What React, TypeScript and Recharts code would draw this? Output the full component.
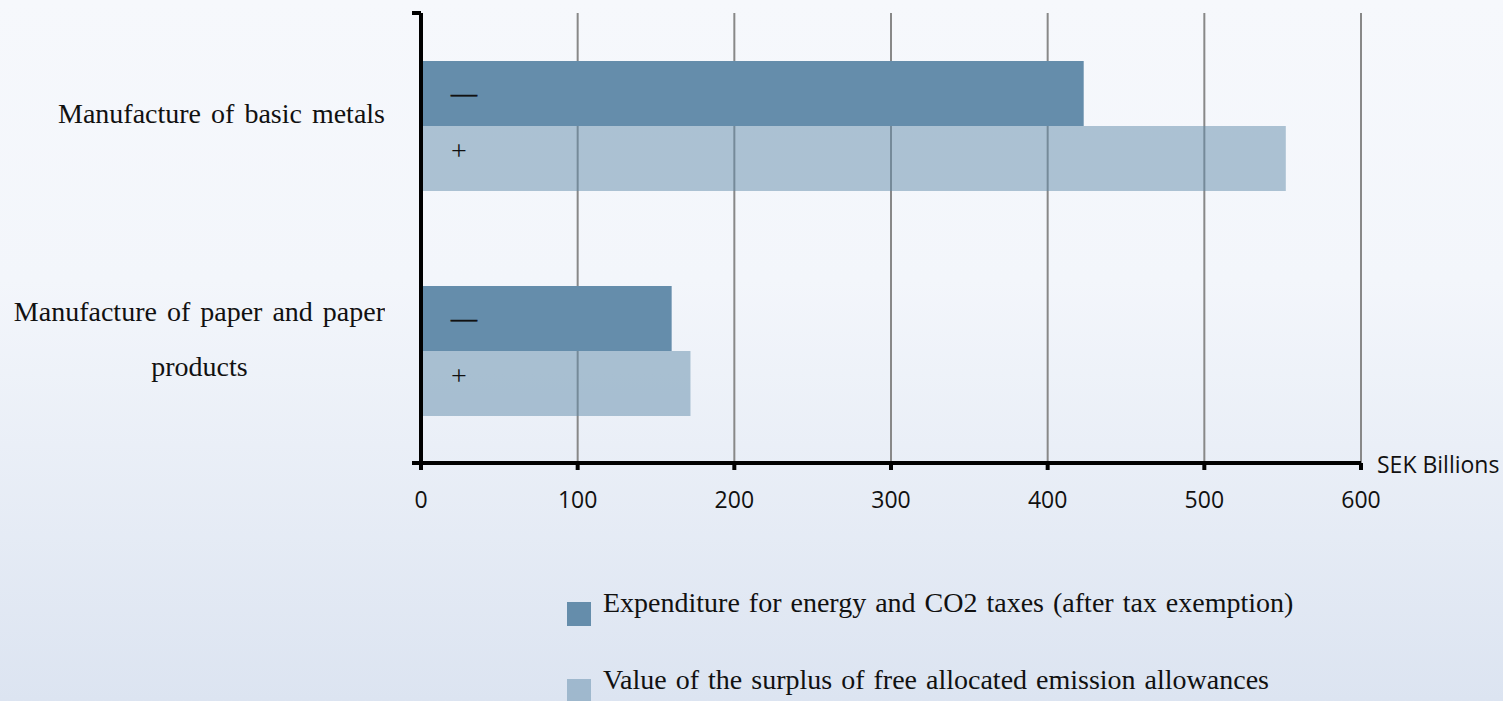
import React from "react";
import {
  BarChart,
  Bar,
  XAxis,
  YAxis,
  CartesianGrid,
  Legend,
  LabelList,
} from "recharts";

const categories = [
  "Manufacture of basic metals",
  "Manufacture of paper and paper products",
];
const expenditure = [423, 160];
const surplus = [552, 172];
const xTicks = [0, 100, 200, 300, 400, 500, 600];
const frameTicks = [0, 1, 2];
const seriesNames = [
  "Expenditure for energy and CO2 taxes (after tax exemption)",
  "Value of the surplus of free allocated emission allowances",
];
const seriesMarks = ["—", "+"];
const axisUnit = "SEK Billions";

const data = categories.map((c, i) => ({
  category: c,
  exp: expenditure[i],
  surplus: surplus[i],
}));

const BAR_COLOR = "#658DAB";
const LIGHT_OPACITY = 0.51;
const SERIF = "'Liberation Serif', 'DejaVu Serif', serif";
const SANS = "'Open Sans', 'Noto Sans', sans-serif";

function wrapWords(text: string, maxChars: number): string[] {
  const words = text.split(" ");
  const lines: string[] = [];
  let cur = "";
  for (const w of words) {
    const next = cur ? cur + " " + w : w;
    if (next.length > maxChars && cur) {
      lines.push(cur);
      cur = w;
    } else {
      cur = next;
    }
  }
  if (cur) lines.push(cur);
  return lines;
}

const CategoryTick = (props: any) => {
  const { y, payload } = props;
  const lines = wrapWords(String(payload.value), 30);
  const lh = 55;
  const h = lines.length * lh;
  return (
    <foreignObject x={0} y={y - h / 2 - 12} width={385} height={h}>
      <div
        style={{
          display: "flex",
          justifyContent: "flex-end",
          height: "100%",
        }}
      >
        <div
          style={{
            textAlign: "center",
            fontFamily: SERIF,
            fontSize: 28,
            lineHeight: lh + "px",
            wordSpacing: 3,
            color: "#111",
            whiteSpace: "nowrap",
          }}
        >
          {lines.map((l, i) => (
            <div key={i}>{l}</div>
          ))}
        </div>
      </div>
    </foreignObject>
  );
};

const XTick = (props: any) => {
  const { x, y, payload } = props;
  return (
    <text
      x={x}
      y={y + 27}
      textAnchor="middle"
      dominantBaseline="central"
      fontFamily={SANS}
      fontSize={23}
      fill="#111"
    >
      {payload.value}
    </text>
  );
};

const EmptyTick = () => <g />;

const UnitLabel = (props: any) => {
  const vb = props.viewBox || {};
  return (
    <text
      x={vb.x + vb.width + 16}
      y={vb.y + 1}
      textAnchor="start"
      dominantBaseline="central"
      fontFamily={SANS}
      fontSize={23}
      fill="#111"
    >
      {axisUnit}
    </text>
  );
};

const makeMark = (mark: string, size: number, dyOff: number, sw: number) => (p: any) => (
  <text
    x={Number(p.x) + 30}
    y={Number(p.y) + Number(p.height) / 2 + dyOff}
    textAnchor="start"
    dominantBaseline="central"
    fontFamily={SERIF}
    fontSize={size}
    fill="#111"
    stroke="#111"
    strokeWidth={sw}
  >
    {mark}
  </text>
);

const LegendContent = () => {
  const rows = [
    { name: seriesNames[0], opacity: 1 },
    { name: seriesNames[1], opacity: LIGHT_OPACITY },
  ];
  return (
    <div style={{ position: "relative", width: 900, height: 130 }}>
      {rows.map((r, i) => (
        <React.Fragment key={i}>
          <div
            style={{
              position: "absolute",
              left: 0,
              top: 22 + i * 77,
              width: 24,
              height: 24,
              background: BAR_COLOR,
              opacity: r.opacity,
            }}
          />
          <div
            style={{
              position: "absolute",
              left: 36,
              top: 7 + i * 77,
              height: 32,
              lineHeight: "32px",
              fontFamily: SERIF,
              fontSize: 28,
              wordSpacing: 2,
              color: "#111",
              whiteSpace: "nowrap",
            }}
          >
            {r.name}
          </div>
        </React.Fragment>
      ))}
    </div>
  );
};

export default function App() {
  return (
    <div
      style={{
        position: "absolute",
        left: 0,
        top: 0,
        width: 1503,
        height: 701,
        overflow: "hidden",
        background: "linear-gradient(to bottom, #F6F8FC 0%, #F3F6FB 40%, #DCE4F1 100%)",
      }}
    >
      <BarChart
        width={1503}
        height={701}
        data={data}
        layout="vertical"
        margin={{ top: 13, right: 142, bottom: 178, left: 0 }}
        barCategoryGap="21.3%"
        barGap={0}
      >
        <CartesianGrid
          horizontal={false}
          vertical={true}
          stroke="#888888"
          strokeWidth={2}
        />
        <XAxis
          type="number"
          domain={[0, 600]}
          ticks={xTicks}
          interval={0}
          height={60}
          axisLine={{ stroke: "#000", strokeWidth: 4 }}
          tickLine={{ stroke: "#000", strokeWidth: 4 }}
          tickSize={7}
          tick={<XTick />}
          label={<UnitLabel />}
        />
        <YAxis
          yAxisId="zcat"
          type="category"
          dataKey="category"
          width={420}
          axisLine={false}
          tickLine={false}
          tick={<CategoryTick />}
        />
        <YAxis
          yAxisId="aframe"
          type="number"
          domain={[0, 2]}
          ticks={frameTicks}
          interval={0}
          allowDataOverflow
          width={1}
          orientation="left"
          axisLine={{ stroke: "#000", strokeWidth: 4 }}
          tickLine={{ stroke: "#000", strokeWidth: 4 }}
          tickSize={9}
          tick={<EmptyTick />}
        />
        <Bar
          yAxisId="zcat"
          dataKey="exp"
          name={seriesNames[0]}
          fill={BAR_COLOR}
          isAnimationActive={false}
        >
          <LabelList dataKey="exp" content={makeMark(seriesMarks[0], 26, 0, 0.6)} />
        </Bar>
        <Bar
          yAxisId="zcat"
          dataKey="surplus"
          name={seriesNames[1]}
          fill={BAR_COLOR}
          fillOpacity={LIGHT_OPACITY}
          isAnimationActive={false}
        >
          <LabelList
            dataKey="surplus"
            content={makeMark(seriesMarks[1], 28, -8, 0)}
          />
        </Bar>
        <Legend
          layout="vertical"
          align="center"
          verticalAlign="middle"
          content={<LegendContent />}
          wrapperStyle={{ position: "absolute", left: 567, top: 580, width: 900 }}
        />
      </BarChart>
    </div>
  );
}
